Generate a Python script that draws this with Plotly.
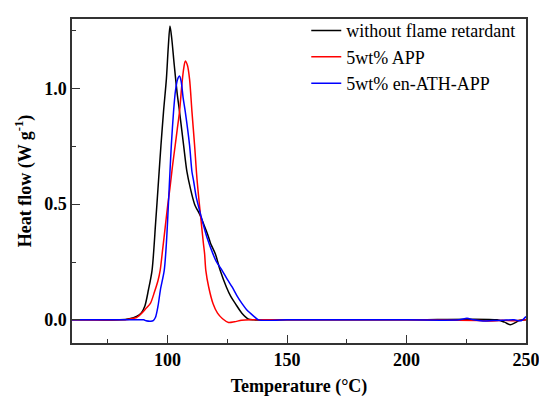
import plotly.graph_objects as go

# ---- data ----
black_T = [60, 70, 80, 84, 87, 89, 90.5, 92, 93.5, 95, 96.2, 97.2, 98.3, 99.5, 100.3, 101, 101.7, 102.8,
           104, 105, 106.7, 108.1, 109.5, 111.3, 113.7, 116, 117.2, 118, 120, 122, 124.6, 126.5, 128.3,
           131.1, 133.9, 136, 150, 200, 238, 241, 243.4, 245.5, 247, 250]
black_v = [0.0, 0.0, 0.0, 0.005, 0.015, 0.03, 0.06, 0.13, 0.214, 0.42, 0.60, 0.75, 0.90, 1.04, 1.18, 1.27,
           1.22, 1.10, 0.98, 0.90, 0.755, 0.64, 0.57, 0.50, 0.45, 0.39, 0.356, 0.33, 0.285, 0.214, 0.142,
           0.10, 0.071, 0.029, 0.003, 0.0, 0.0, 0.0, 0.0, -0.01, -0.021, -0.012, -0.003, 0.0]

red_T = [60, 80, 84, 87, 89.3, 91, 92.8, 94.5, 96, 96.9, 98, 99, 100, 101, 102, 103.2, 104, 105, 106,
         106.8, 107.4, 108.3, 109.2, 110.2, 111.3, 112.3, 113.7, 115, 115.5, 116, 117.2, 119, 120.9,
         123, 125.5, 128, 131, 135, 150, 200, 230, 235, 240, 245, 250]
red_v = [0.0, 0.0, 0.003, 0.01, 0.03, 0.05, 0.071, 0.12, 0.17, 0.214, 0.31, 0.40, 0.49, 0.57, 0.66,
         0.755, 0.82, 0.90, 1.02, 1.09, 1.118, 1.10, 1.04, 0.90, 0.755, 0.61, 0.46, 0.33, 0.285, 0.214,
         0.142, 0.071, 0.029, 0.005, -0.011, -0.008, -0.002, 0.0, 0.0, 0.0, -0.003, -0.005, -0.002, -0.004, 0.0]

blue_T = [60, 80, 90, 91, 93, 94, 94.9, 96, 97, 98.6, 99.5, 100.3, 101, 101.6, 102.5, 103.3, 104.2, 105,
          105.7, 106.5, 107.4, 109.2, 110.2, 110.9, 112, 113.7, 115, 116.5, 119, 120.5, 122.8, 125, 127,
          129, 131.1, 133, 134.6, 136.5, 138.1, 150, 200, 222, 225.3, 228, 232, 236, 240, 245, 248, 250]
blue_v = [0.0, 0.0, 0.0, -0.004, -0.006, -0.003, 0.01, 0.06, 0.13, 0.214, 0.33, 0.49, 0.64, 0.76, 0.90,
          0.99, 1.04, 1.054, 1.03, 0.96, 0.90, 0.755, 0.64, 0.60, 0.53, 0.46, 0.41, 0.356, 0.285, 0.25,
          0.214, 0.175, 0.142, 0.105, 0.071, 0.045, 0.029, 0.012, 0.0, 0.0, 0.0, 0.0, 0.007, 0.0, -0.005,
          -0.003, -0.002, 0.0, -0.004, 0.014]

names = ["without flame retardant", "5wt% APP", "5wt% en-ATH-APP"]
colors = ["#000000", "#ff0000", "#0000ff"]

x_ticks = [100, 150, 200, 250]
y_ticks = [0.0, 0.5, 1.0]
y_tick_text = ["0.0", "0.5", "1.0"]

FONT = "Liberation Serif, Times New Roman, serif"

fig = go.Figure()
for T, v, n, c in zip([black_T, red_T, blue_T], [black_v, red_v, blue_v], names, colors):
    fig.add_trace(go.Scatter(x=T, y=v, mode="lines", name=n,
                             line=dict(color=c, width=1.5, shape="spline", smoothing=0.8)))

axis_common = dict(showline=True, linecolor="#333333", linewidth=1.5, mirror=True,
                   ticks="inside", ticklen=8, tickwidth=1, tickcolor="#333333",
                   showgrid=False, zeroline=False, automargin=False, ticklabeloverflow="allow",
                   tickfont=dict(family=FONT, size=18, color="black", weight="bold"))

fig.update_xaxes(range=[60, 250], tickvals=x_ticks,
                 minor=dict(ticks="inside", ticklen=4, dtick=25, tick0=0, tickcolor="#333333"),
                 title=dict(text="Temperature (\u00b0C)", font=dict(family=FONT, size=18, color="black", weight="bold"),
                            standoff=19),
                 **axis_common)
fig.update_yaxes(range=[-0.1, 1.3], tickvals=y_ticks, ticktext=y_tick_text,
                 minor=dict(ticks="inside", ticklen=4, dtick=0.25, tick0=0, tickcolor="#333333"),
                 title=dict(text="Heat flow (W g<sup>-1</sup>)", font=dict(family=FONT, size=18, color="black", weight="bold"),
                            standoff=8),
                 **axis_common)

fig.update_layout(
    width=539, height=397,
    margin=dict(l=72, r=13, t=15, b=54),
    paper_bgcolor="white", plot_bgcolor="white",
    legend=dict(x=0.516, y=1.021, xanchor="left", yanchor="top",
                bgcolor="rgba(0,0,0,0)", borderwidth=0,
                font=dict(family=FONT, size=18, color="black"),
                tracegroupgap=0, itemwidth=30),
    showlegend=True,
)

fig.write_html("out.html", config={"displayModeBar": False},
               post_script="document.body.style.margin='0';")
